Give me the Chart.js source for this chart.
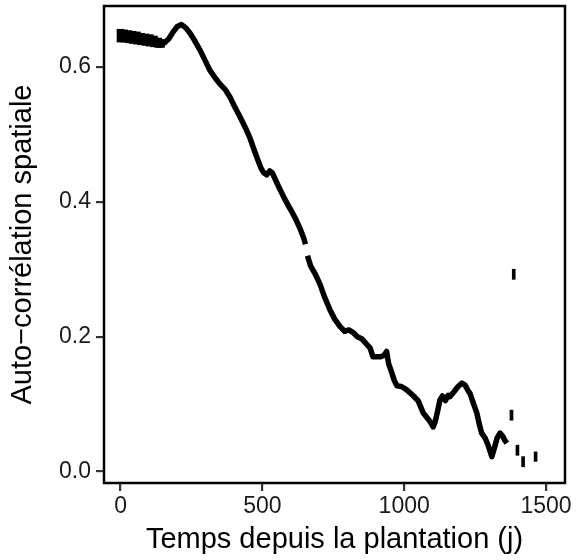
<!DOCTYPE html>
<html>
<head>
<meta charset="utf-8">
<script src="https://cdn.jsdelivr.net/npm/chart.js@4/dist/chart.umd.min.js"></script>
<style>
  html, body { margin: 0; padding: 0; background: #ffffff; }
  #wrap { width: 580px; height: 560px; }
</style>
</head>
<body>
<div id="wrap"><canvas id="chart" width="580" height="560"></canvas></div>
<script>
// Spatial autocorrelation over time since planting (days)
const days = [
  5, 20, 40, 60, 80, 100, 120, 140, 155, 170, 185, 200, 215, 230, 245, 260, 280, 300, 315, 335,
  350, 370, 385, 400, 420, 440, 456, 470, 484, 495, 505, 515, 526, 535, 547, 560, 579, 592, 604, 618,
  632, 645, 652, 656, 659, 670, 685, 703, 720, 738, 755, 774, 790, 805, 820, 835, 850, 865, 880, 890,
  900, 915, 928, 938, 945, 955, 965, 975, 990, 1009, 1030, 1049, 1067, 1080, 1090, 1102, 1110, 1118, 1126, 1135,
  1145, 1155, 1161, 1175, 1190, 1203, 1215, 1225, 1232, 1245, 1256, 1265, 1273, 1285, 1295, 1309, 1318, 1328, 1338, 1348,
  1355, 1362
];
const acf = [
  0.646, 0.646, 0.645, 0.644, 0.643, 0.642, 0.641, 0.638, 0.636, 0.642, 0.652, 0.660, 0.663, 0.658, 0.650, 0.640, 0.625, 0.608, 0.595, 0.583,
  0.575, 0.566, 0.556, 0.543, 0.527, 0.510, 0.495, 0.478, 0.462, 0.450, 0.443, 0.440, 0.446, 0.443, 0.432, 0.420, 0.404, 0.394, 0.385, 0.374,
  0.361, 0.347, 0.337, null, 0.320, 0.305, 0.294, 0.278, 0.258, 0.240, 0.226, 0.215, 0.208, 0.210, 0.206, 0.200, 0.197, 0.190, 0.183, 0.170,
  0.170, 0.170, 0.172, 0.178, 0.160, 0.148, 0.135, 0.127, 0.126, 0.121, 0.113, 0.105, 0.087, 0.080, 0.075, 0.066, 0.075, 0.090, 0.106, 0.112,
  0.105, 0.113, 0.111, 0.118, 0.126, 0.131, 0.128, 0.120, 0.116, 0.100, 0.087, 0.070, 0.057, 0.050, 0.040, 0.022, 0.035, 0.050, 0.057, 0.052,
  0.046, 0.042
];

// Early period: spread of values drawn as a band of ranges
const bandDays = [12, 25, 40, 55, 70, 85, 100, 115, 130, 145, 155];
const bandLow  = [0.637, 0.637, 0.636, 0.635, 0.634, 0.633, 0.632, 0.631, 0.630, 0.629, 0.629];
const bandHigh = [0.656, 0.655, 0.654, 0.653, 0.652, 0.650, 0.649, 0.648, 0.646, 0.643, 0.641];

// Late isolated ranges
const isoDays = [1373, 1381, 1394, 1414, 1458];
const isoLow  = [0.076, 0.285, 0.024, 0.007, 0.015];
const isoHigh = [0.091, 0.300, 0.039, 0.022, 0.029];

const xTicks = [0, 500, 1000, 1500];
const yTicks = [0.0, 0.2, 0.4, 0.6];

const xTitle = 'Temps depuis la plantation (j)';
const yTitle = 'Auto\u2212corrélation spatiale';

const FONT = "'Liberation Sans', Arial, sans-serif";

const frame = {
  id: 'frame',
  afterDatasetsDraw(chart) {
    const { ctx, chartArea: a } = chart;
    ctx.save();
    ctx.strokeStyle = '#000';
    ctx.lineWidth = 2.5;
    ctx.strokeRect(a.left, a.top, a.right - a.left, a.bottom - a.top);
    ctx.restore();
  }
};

new Chart(document.getElementById('chart'), {
  type: 'line',
  data: {
    datasets: [
      {
        type: 'line',
        data: days.map((d, i) => ({ x: d, y: acf[i] })),
        borderColor: '#000',
        borderWidth: 5.5,
        borderCapStyle: 'butt',
        borderJoinStyle: 'round',
        pointRadius: 0,
        tension: 0,
        spanGaps: false,
        fill: false
      },
      {
        type: 'bar',
        data: bandDays.map((d, i) => ({ x: d, y: [bandLow[i], bandHigh[i]] })),
        backgroundColor: '#000',
        borderWidth: 0,
        barThickness: 7
      },
      {
        type: 'bar',
        data: isoDays.map((d, i) => ({ x: d, y: [isoLow[i], isoHigh[i]] })),
        backgroundColor: '#000',
        borderWidth: 0,
        barThickness: 3
      }
    ]
  },
  options: {
    responsive: false,
    animation: false,
    devicePixelRatio: 1,
    layout: { padding: { top: 6, right: 15, left: 0, bottom: 0 } },
    plugins: { legend: { display: false }, tooltip: { enabled: false } },
    scales: {
      x: {
        type: 'linear',
        min: -58.5,
        max: 1567,
        offset: false,
        afterBuildTicks(s) { s.ticks = xTicks.map(v => ({ value: v })); },
        afterFit(s) { s.height = 77; s.paddingLeft = 0; s.paddingRight = 0; },
        grid: { offset: false, drawOnChartArea: false, drawTicks: true, tickLength: 8, color: '#333', lineWidth: 2.2 },
        border: { display: false },
        ticks: {
          color: '#1a1a1a',
          font: { family: FONT, size: 23 },
          padding: 2,
          maxRotation: 0,
          callback: v => String(v)
        },
        title: {
          display: true,
          text: xTitle,
          color: '#000',
          font: { family: FONT, size: 29 },
          padding: { top: 0, bottom: 3 }
        }
      },
      y: {
        type: 'linear',
        min: -0.0171,
        max: 0.6905,
        afterBuildTicks(s) { s.ticks = yTicks.map(v => ({ value: v })); },
        afterFit(s) { s.width = 104; s.paddingTop = 0; s.paddingBottom = 0; },
        grid: { drawOnChartArea: false, drawTicks: true, tickLength: 8, color: '#333', lineWidth: 2.2 },
        border: { display: false },
        ticks: {
          color: '#1a1a1a',
          font: { family: FONT, size: 23 },
          padding: 5,
          callback: v => v.toFixed(1)
        },
        title: {
          display: true,
          text: yTitle,
          color: '#000',
          font: { family: FONT, size: 29 },
          padding: { top: 6, bottom: 0 }
        }
      }
    }
  },
  plugins: [frame]
});
</script>
</body>
</html>
